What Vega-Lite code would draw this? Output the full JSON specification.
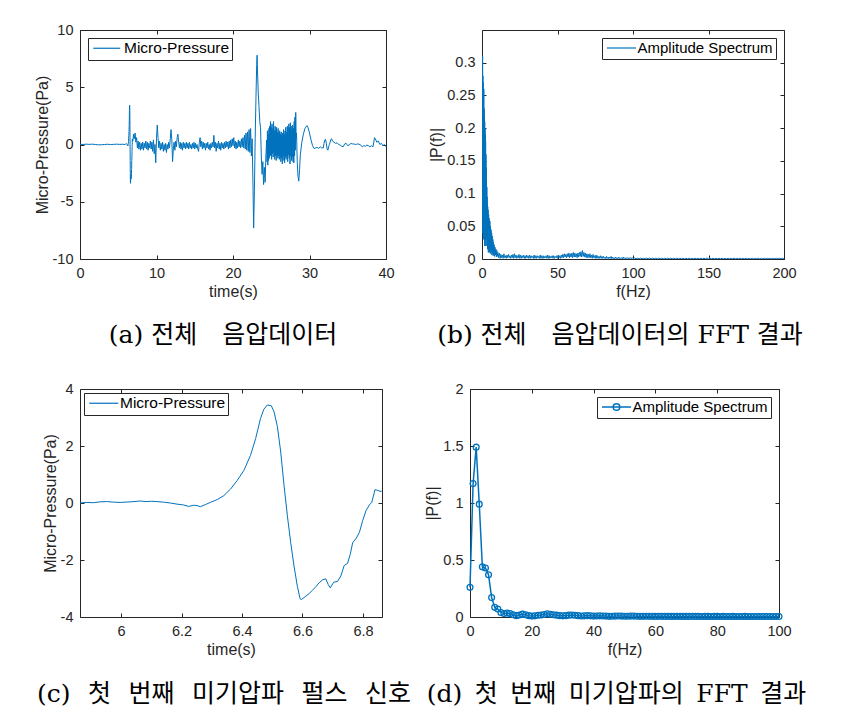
{
"$schema":"https://vega.github.io/schema/vega-lite/v6.json",
"background":"white",
"padding":{"left":33,"top":21,"right":0,"bottom":0},
"config":{
 "font":"Liberation Sans",
 "view":{"stroke":"#262626","strokeWidth":1},
 "axis":{"labelFont":"Liberation Sans","labelFontSize":14.5,"labelColor":"#262626","titleFont":"Liberation Sans","titleFontSize":16,"titleFontWeight":"normal","titleColor":"#262626","grid":false,"domain":false,"ticks":true,"tickColor":"#262626","tickSize":-4,"labelPadding":11,"titlePadding":4,"labelFlush":false,"labelOverlap":false},
 "axisY":{"titlePadding":2},
 "legend":{"title":null,"orient":"top-left","labelFont":"Liberation Sans","labelColor":"#000000","strokeColor":"#262626","fillColor":"#ffffff","padding":2.5,"labelOffset":18,"symbolSize":100,"symbolStrokeWidth":1.2,"symbolFillColor":"transparent","cornerRadius":0,"offset":8},
 "title":{"font":"DejaVu Serif, Noto Sans CJK KR","fontSize":25,"fontWeight":"normal","color":"#000000","orient":"bottom","anchor":"middle","frame":"group"}
},
"datasets":{
"ts":[
{"t":0,"p":0.02},{"t":0.4,"p":0.0},{"t":0.8,"p":0.03},{"t":1.2,"p":0.01},{"t":1.6,"p":0.03},{"t":2.0,"p":0.0},{"t":2.4,"p":-0.03},{"t":2.8,"p":-0.02},{"t":3.2,"p":0.0},{"t":3.6,"p":0.02},{"t":4.0,"p":0.0},{"t":4.4,"p":0.01},{"t":4.8,"p":0.03},{"t":5.2,"p":0.01},{"t":5.6,"p":0.02},
{"t":5.864,"p":0.0},{"t":5.885,"p":0.02},{"t":5.908,"p":0.01},{"t":5.93,"p":0.04},{"t":5.952,"p":0.05},{"t":5.975,"p":0.03},{"t":5.997,"p":0.02},{"t":6.03,"p":0.04},{"t":6.063,"p":0.07},{"t":6.08,"p":0.05},{"t":6.1,"p":0.06},{"t":6.118,"p":0.05},{"t":6.14,"p":0.03},{"t":6.163,"p":0.0},{"t":6.185,"p":-0.04},{"t":6.207,"p":-0.07},{"t":6.223,"p":-0.12},{"t":6.24,"p":-0.08},{"t":6.251,"p":-0.09},{"t":6.262,"p":-0.13},{"t":6.28,"p":-0.05},{"t":6.295,"p":0.02},{"t":6.318,"p":0.12},{"t":6.34,"p":0.26},{"t":6.362,"p":0.49},{"t":6.384,"p":0.79},{"t":6.406,"p":1.14},{"t":6.428,"p":1.67},{"t":6.445,"p":2.26},{"t":6.461,"p":2.96},{"t":6.472,"p":3.29},{"t":6.484,"p":3.44},{"t":6.497,"p":3.41},{"t":6.506,"p":3.2},{"t":6.517,"p":2.68},{"t":6.528,"p":1.79},{"t":6.539,"p":0.61},{"t":6.55,"p":-0.45},{"t":6.561,"p":-1.39},{"t":6.572,"p":-2.21},{"t":6.583,"p":-2.92},{"t":6.592,"p":-3.36},{"t":6.596,"p":-3.39},{"t":6.611,"p":-3.27},{"t":6.622,"p":-3.18},{"t":6.633,"p":-3.06},{"t":6.644,"p":-2.94},{"t":6.655,"p":-2.8},{"t":6.666,"p":-2.7},{"t":6.677,"p":-2.66},{"t":6.685,"p":-2.86},{"t":6.692,"p":-2.98},{"t":6.703,"p":-2.78},{"t":6.716,"p":-2.75},{"t":6.727,"p":-2.56},{"t":6.738,"p":-2.19},{"t":6.749,"p":-2.12},{"t":6.758,"p":-1.8},{"t":6.766,"p":-1.39},{"t":6.777,"p":-1.25},{"t":6.788,"p":-1.04},{"t":6.799,"p":-0.62},{"t":6.81,"p":-0.27},{"t":6.821,"p":-0.07},{"t":6.829,"p":0.02},{"t":6.84,"p":0.47},{"t":6.849,"p":0.44},{"t":6.86,"p":0.4},{"t":6.863,"p":0.44},{"t":6.9,"p":0.3},
{"t":7.0,"p":0.9},{"t":7.1,"p":0.5},{"t":7.2,"p":1.0},{"t":7.3,"p":0.2},{"t":7.4,"p":0.6},{"t":7.5,"p":-0.3},{"t":7.6,"p":0.3},{"t":7.7,"p":-0.4},{"t":7.8,"p":0.2},{"t":7.9,"p":-0.5},
{"t":8.0,"p":0.1},{"t":8.1,"p":-0.4},{"t":8.2,"p":0.2},{"t":8.3,"p":-0.5},{"t":8.4,"p":0.1},{"t":8.5,"p":-0.3},{"t":8.6,"p":0.3},{"t":8.7,"p":-0.4},{"t":8.8,"p":0.2},{"t":8.9,"p":-0.5},
{"t":9.0,"p":0.1},{"t":9.1,"p":-0.3},{"t":9.2,"p":0.3},{"t":9.3,"p":-0.4},{"t":9.4,"p":0.2},{"t":9.5,"p":-0.6},{"t":9.6,"p":0.4},{"t":9.7,"p":-0.8},{"t":9.8,"p":0.0},{"t":9.9,"p":-1.6},
{"t":10.0,"p":0.5},{"t":10.1,"p":1.7},{"t":10.2,"p":0.6},{"t":10.3,"p":-0.3},{"t":10.4,"p":0.3},{"t":10.5,"p":-0.5},{"t":10.6,"p":0.1},{"t":10.7,"p":-0.4},{"t":10.8,"p":0.2},{"t":10.9,"p":-0.6},
{"t":11.0,"p":0.0},{"t":11.1,"p":-0.5},{"t":11.2,"p":0.1},{"t":11.3,"p":-0.7},{"t":11.4,"p":0.0},{"t":11.5,"p":-0.4},{"t":11.6,"p":0.2},{"t":11.7,"p":-0.3},{"t":11.8,"p":0.5},{"t":11.9,"p":1.3},
{"t":12.0,"p":0.4},{"t":12.1,"p":-1.5},{"t":12.2,"p":-0.4},{"t":12.3,"p":0.2},{"t":12.4,"p":-0.5},{"t":12.5,"p":0.3},{"t":12.6,"p":-0.2},{"t":12.7,"p":0.6},{"t":12.8,"p":0.9},{"t":12.9,"p":0.2},
{"t":13.0,"p":-0.3},{"t":13.1,"p":0.2},{"t":13.2,"p":-0.4},{"t":13.3,"p":0.1},{"t":13.4,"p":-0.5},{"t":13.5,"p":0.2},{"t":13.6,"p":-0.3},{"t":13.7,"p":0.1},{"t":13.8,"p":-0.4},{"t":13.9,"p":0.2},
{"t":14.0,"p":-0.3},{"t":14.1,"p":0.1},{"t":14.2,"p":-0.4},{"t":14.3,"p":0.2},{"t":14.4,"p":-0.3},{"t":14.5,"p":0.0},{"t":14.6,"p":-0.4},{"t":14.7,"p":0.1},{"t":14.8,"p":-0.3},{"t":14.9,"p":0.2},
{"t":15.0,"p":-0.4},{"t":15.1,"p":0.1},{"t":15.2,"p":-0.3},{"t":15.3,"p":0.0},{"t":15.4,"p":-0.4},{"t":15.5,"p":-0.6},{"t":15.6,"p":0.2},{"t":15.7,"p":0.6},{"t":15.8,"p":-0.2},{"t":15.9,"p":0.3},
{"t":16.0,"p":-0.4},{"t":16.1,"p":0.2},{"t":16.2,"p":-0.3},{"t":16.3,"p":0.1},{"t":16.4,"p":-0.5},{"t":16.5,"p":0.1},{"t":16.6,"p":-0.3},{"t":16.7,"p":0.2},{"t":16.8,"p":-0.4},{"t":16.9,"p":0.0},
{"t":17.0,"p":-0.5},{"t":17.1,"p":0.1},{"t":17.2,"p":-0.3},{"t":17.3,"p":0.2},{"t":17.4,"p":-0.2},{"t":17.5,"p":0.8},{"t":17.6,"p":-0.3},{"t":17.7,"p":0.2},{"t":17.8,"p":-0.6},{"t":17.9,"p":0.1},
{"t":18.0,"p":-0.3},{"t":18.1,"p":0.3},{"t":18.2,"p":-0.4},{"t":18.3,"p":0.1},{"t":18.4,"p":-0.5},{"t":18.5,"p":0.2},{"t":18.6,"p":-0.3},{"t":18.7,"p":0.1},{"t":18.8,"p":-0.4},{"t":18.9,"p":0.2},
{"t":19.0,"p":-0.3},{"t":19.1,"p":0.3},{"t":19.2,"p":-0.2},{"t":19.3,"p":0.2},{"t":19.4,"p":-0.4},{"t":19.5,"p":0.3},{"t":19.6,"p":-0.3},{"t":19.7,"p":0.4},{"t":19.8,"p":-0.2},{"t":19.9,"p":0.5},
{"t":20.0,"p":-0.1},{"t":20.1,"p":0.6},{"t":20.2,"p":-0.3},{"t":20.3,"p":0.3},{"t":20.4,"p":-0.4},{"t":20.5,"p":0.2},{"t":20.6,"p":-0.3},{"t":20.7,"p":0.4},{"t":20.8,"p":-0.2},{"t":20.9,"p":0.3},
{"t":21.0,"p":-0.3},{"t":21.1,"p":0.5},{"t":21.2,"p":-0.2},{"t":21.3,"p":0.6},{"t":21.4,"p":-0.3},{"t":21.5,"p":0.8},{"t":21.6,"p":-0.4},{"t":21.7,"p":1.0},{"t":21.8,"p":-0.5},{"t":21.9,"p":1.1},
{"t":22.0,"p":-0.6},{"t":22.1,"p":1.3},{"t":22.2,"p":-0.7},{"t":22.3,"p":1.4},{"t":22.4,"p":-1.0},{"t":22.5,"p":0.5},{"t":22.6,"p":-3.0},{"t":22.7,"p":-7.3},{"t":22.8,"p":-4.0},{"t":22.9,"p":0.5},
{"t":23.0,"p":4.0},{"t":23.1,"p":7.0},{"t":23.15,"p":7.8},{"t":23.2,"p":6.5},{"t":23.3,"p":4.5},{"t":23.4,"p":3.3},{"t":23.5,"p":2.0},{"t":23.6,"p":1.5},{"t":23.7,"p":-1.0},{"t":23.8,"p":-2.6},
{"t":23.9,"p":-1.5},{"t":24.0,"p":-3.5},{"t":24.1,"p":-2.0},{"t":24.2,"p":-3.3},{"t":24.3,"p":-1.0},{"t":24.4,"p":0.4},
{"t":24.45,"p":-1.5},{"t":24.5,"p":1.2},{"t":24.55,"p":-1.8},{"t":24.6,"p":0.9},{"t":24.65,"p":-1.4},{"t":24.7,"p":1.4},{"t":24.75,"p":-1.2},{"t":24.8,"p":1.6},{"t":24.85,"p":-0.9},{"t":24.9,"p":2.0},
{"t":24.95,"p":-1.0},{"t":25.0,"p":1.5},{"t":25.05,"p":-1.3},{"t":25.1,"p":1.8},{"t":25.15,"p":-0.8},{"t":25.2,"p":1.4},{"t":25.25,"p":-1.1},{"t":25.3,"p":2.0},{"t":25.35,"p":-0.7},{"t":25.4,"p":1.2},
{"t":25.45,"p":-1.3},{"t":25.5,"p":1.6},{"t":25.55,"p":-1.0},{"t":25.6,"p":1.3},{"t":25.65,"p":-1.4},{"t":25.7,"p":1.5},{"t":25.75,"p":-0.9},{"t":25.8,"p":1.1},{"t":25.85,"p":-1.2},{"t":25.9,"p":1.4},
{"t":25.95,"p":-1.0},{"t":26.0,"p":1.0},{"t":26.05,"p":-1.3},{"t":26.1,"p":1.2},{"t":26.15,"p":-1.1},{"t":26.2,"p":0.9},{"t":26.25,"p":-1.5},{"t":26.3,"p":1.1},{"t":26.35,"p":-1.2},{"t":26.4,"p":0.8},
{"t":26.45,"p":-1.7},{"t":26.5,"p":1.0},{"t":26.55,"p":-1.4},{"t":26.6,"p":1.3},{"t":26.65,"p":-1.0},{"t":26.7,"p":0.9},{"t":26.75,"p":-1.6},{"t":26.8,"p":1.2},{"t":26.85,"p":-1.1},{"t":26.9,"p":1.5},
{"t":26.95,"p":-1.3},{"t":27.0,"p":1.1},{"t":27.05,"p":-1.0},{"t":27.1,"p":1.6},{"t":27.15,"p":-1.5},{"t":27.2,"p":1.4},{"t":27.25,"p":-0.9},{"t":27.3,"p":1.8},{"t":27.35,"p":-1.2},{"t":27.4,"p":1.5},
{"t":27.45,"p":-1.7},{"t":27.5,"p":1.9},{"t":27.55,"p":-1.0},{"t":27.6,"p":1.6},{"t":27.65,"p":-1.4},{"t":27.7,"p":1.3},{"t":27.75,"p":-1.1},{"t":27.8,"p":1.7},{"t":27.85,"p":-1.5},{"t":27.9,"p":1.4},
{"t":27.95,"p":-1.6},{"t":28.0,"p":2.0},{"t":28.05,"p":-1.0},{"t":28.1,"p":2.4},{"t":28.15,"p":-0.5},{"t":28.2,"p":2.8},{"t":28.25,"p":0.5},{"t":28.3,"p":1.0},{"t":28.4,"p":-1.5},{"t":28.5,"p":-2.8},
{"t":28.6,"p":-3.2},{"t":28.7,"p":-2.2},{"t":28.8,"p":-0.9},{"t":29.0,"p":0.2},{"t":29.2,"p":0.9},{"t":29.4,"p":1.4},{"t":29.6,"p":1.6},{"t":29.7,"p":1.65},{"t":29.8,"p":1.5},{"t":30.0,"p":1.0},
{"t":30.2,"p":0.4},{"t":30.4,"p":-0.1},{"t":30.6,"p":-0.35},{"t":30.8,"p":-0.3},{"t":31.0,"p":-0.25},{"t":31.2,"p":-0.35},{"t":31.4,"p":-0.2},{"t":31.6,"p":-0.3},{"t":31.8,"p":-0.3},{"t":31.9,"p":0.1},
{"t":32.0,"p":0.4},{"t":32.1,"p":0.45},{"t":32.2,"p":0.1},{"t":32.3,"p":-0.4},{"t":32.4,"p":-0.5},{"t":32.5,"p":-0.2},{"t":32.6,"p":0.0},{"t":32.7,"p":0.2},{"t":32.8,"p":0.45},{"t":32.9,"p":0.5},
{"t":33.0,"p":0.3},{"t":33.2,"p":0.2},{"t":33.4,"p":0.1},{"t":33.6,"p":0.15},{"t":33.8,"p":0.0},{"t":34.0,"p":-0.05},{"t":34.2,"p":-0.15},{"t":34.4,"p":-0.2},{"t":34.6,"p":0.05},{"t":34.8,"p":0.1},
{"t":35.0,"p":-0.1},{"t":35.2,"p":-0.05},{"t":35.4,"p":0.1},{"t":35.6,"p":0.05},{"t":35.8,"p":0.05},{"t":36.0,"p":0.0},{"t":36.3,"p":0.05},{"t":36.6,"p":0.0},{"t":36.9,"p":-0.2},{"t":37.1,"p":-0.1},
{"t":37.3,"p":-0.15},{"t":37.5,"p":-0.05},{"t":37.7,"p":-0.1},{"t":37.9,"p":-0.2},{"t":38.1,"p":-0.1},{"t":38.3,"p":-0.2},{"t":38.5,"p":0.6},{"t":38.6,"p":0.5},{"t":38.8,"p":0.2},{"t":39.0,"p":0.3},
{"t":39.2,"p":0.0},{"t":39.4,"p":0.1},{"t":39.6,"p":-0.1},{"t":39.8,"p":0.0},{"t":40.0,"p":-0.2}
],
"fb":[
{"f":0,"a":0.25},{"f":0.1,"a":0.05},{"f":0.2,"a":0.29},{"f":0.3,"a":0.08},{"f":0.4,"a":0.31},{"f":0.5,"a":0.04},{"f":0.6,"a":0.28},{"f":0.7,"a":0.09},{"f":0.8,"a":0.27},{"f":0.9,"a":0.03},
{"f":1.0,"a":0.25},{"f":1.1,"a":0.07},{"f":1.2,"a":0.26},{"f":1.3,"a":0.04},{"f":1.4,"a":0.23},{"f":1.5,"a":0.06},{"f":1.6,"a":0.22},{"f":1.7,"a":0.02},{"f":1.8,"a":0.21},{"f":1.9,"a":0.05},
{"f":2.0,"a":0.2},{"f":2.1,"a":0.03},{"f":2.2,"a":0.19},{"f":2.3,"a":0.06},{"f":2.4,"a":0.18},{"f":2.5,"a":0.02},{"f":2.6,"a":0.16},{"f":2.7,"a":0.04},{"f":2.8,"a":0.14},{"f":2.9,"a":0.03},
{"f":3.0,"a":0.12},{"f":3.1,"a":0.05},{"f":3.2,"a":0.11},{"f":3.3,"a":0.02},{"f":3.4,"a":0.095},{"f":3.5,"a":0.03},{"f":3.6,"a":0.085},{"f":3.7,"a":0.015},{"f":3.8,"a":0.08},{"f":3.9,"a":0.03},
{"f":4.0,"a":0.075},{"f":4.2,"a":0.01},{"f":4.4,"a":0.068},{"f":4.6,"a":0.02},{"f":4.8,"a":0.062},{"f":5.0,"a":0.01},{"f":5.2,"a":0.058},{"f":5.4,"a":0.015},{"f":5.6,"a":0.05},{"f":5.8,"a":0.008},
{"f":6.0,"a":0.045},{"f":6.2,"a":0.012},{"f":6.4,"a":0.04},{"f":6.6,"a":0.006},{"f":6.8,"a":0.035},{"f":7.0,"a":0.01},{"f":7.2,"a":0.03},{"f":7.4,"a":0.005},{"f":7.6,"a":0.025},{"f":7.8,"a":0.008},
{"f":8.0,"a":0.022},{"f":8.3,"a":0.004},{"f":8.6,"a":0.018},{"f":8.9,"a":0.006},{"f":9.2,"a":0.015},{"f":9.5,"a":0.003},{"f":9.8,"a":0.013},{"f":10.1,"a":0.004},
{"f":10.5,"a":0.01},{"f":11,"a":0.002},{"f":11.5,"a":0.009},{"f":12,"a":0.001},{"f":12.5,"a":0.007},{"f":13,"a":0.002},{"f":13.5,"a":0.006},{"f":14,"a":0.001},{"f":14.5,"a":0.008},{"f":15,"a":0.002},
{"f":15.5,"a":0.005},{"f":16,"a":0.001},{"f":16.5,"a":0.006},{"f":17,"a":0.002},{"f":17.5,"a":0.007},{"f":18,"a":0.002},{"f":18.5,"a":0.005},{"f":19,"a":0.001},{"f":19.5,"a":0.006},{"f":20,"a":0.002},
{"f":20.5,"a":0.007},{"f":21,"a":0.001},{"f":21.5,"a":0.008},{"f":22,"a":0.002},{"f":22.5,"a":0.006},{"f":23,"a":0.001},{"f":23.5,"a":0.005},{"f":24,"a":0.002},{"f":24.5,"a":0.007},{"f":25,"a":0.001},
{"f":25.5,"a":0.006},{"f":26,"a":0.001},{"f":26.5,"a":0.005},{"f":27,"a":0.002},{"f":27.5,"a":0.006},{"f":28,"a":0.001},{"f":28.5,"a":0.005},{"f":29,"a":0.001},{"f":29.5,"a":0.006},{"f":30,"a":0.002},
{"f":30.5,"a":0.005},{"f":31,"a":0.001},{"f":31.5,"a":0.006},{"f":32,"a":0.001},{"f":32.5,"a":0.005},{"f":33,"a":0.002},{"f":33.5,"a":0.004},{"f":34,"a":0.001},{"f":34.5,"a":0.006},{"f":35,"a":0.001},
{"f":35.5,"a":0.005},{"f":36,"a":0.001},{"f":36.5,"a":0.005},{"f":37,"a":0.002},{"f":37.5,"a":0.004},{"f":38,"a":0.001},{"f":38.5,"a":0.006},{"f":39,"a":0.001},{"f":39.5,"a":0.005},{"f":40,"a":0.001},
{"f":40.5,"a":0.005},{"f":41,"a":0.001},{"f":41.5,"a":0.004},{"f":42,"a":0.002},{"f":42.5,"a":0.005},{"f":43,"a":0.001},{"f":43.5,"a":0.006},{"f":44,"a":0.001},{"f":44.5,"a":0.005},{"f":45,"a":0.001},
{"f":45.5,"a":0.004},{"f":46,"a":0.002},{"f":46.5,"a":0.005},{"f":47,"a":0.001},{"f":47.5,"a":0.005},{"f":48,"a":0.001},{"f":48.5,"a":0.004},{"f":49,"a":0.002},{"f":49.5,"a":0.005},{"f":50,"a":0.001},
{"f":50.5,"a":0.006},{"f":51,"a":0.002},{"f":51.5,"a":0.005},{"f":52,"a":0.001},{"f":52.5,"a":0.006},{"f":53,"a":0.002},{"f":53.5,"a":0.007},{"f":54,"a":0.002},{"f":54.5,"a":0.008},{"f":55,"a":0.003},
{"f":55.5,"a":0.007},{"f":56,"a":0.002},{"f":56.5,"a":0.008},{"f":57,"a":0.003},{"f":57.5,"a":0.009},{"f":58,"a":0.002},{"f":58.5,"a":0.008},{"f":59,"a":0.003},{"f":59.5,"a":0.009},{"f":60,"a":0.002},
{"f":60.5,"a":0.01},{"f":61,"a":0.003},{"f":61.5,"a":0.009},{"f":62,"a":0.003},{"f":62.5,"a":0.008},{"f":63,"a":0.002},{"f":63.5,"a":0.009},{"f":64,"a":0.003},{"f":64.5,"a":0.01},{"f":65,"a":0.004},
{"f":65.5,"a":0.011},{"f":66,"a":0.003},{"f":66.5,"a":0.013},{"f":67,"a":0.004},{"f":67.5,"a":0.01},{"f":68,"a":0.003},{"f":68.5,"a":0.009},{"f":69,"a":0.002},{"f":69.5,"a":0.008},{"f":70,"a":0.002},
{"f":70.5,"a":0.007},{"f":71,"a":0.002},{"f":71.5,"a":0.008},{"f":72,"a":0.002},{"f":72.5,"a":0.006},{"f":73,"a":0.001},{"f":73.5,"a":0.007},{"f":74,"a":0.002},{"f":74.5,"a":0.005},{"f":75,"a":0.001},
{"f":75.5,"a":0.006},{"f":76,"a":0.001},{"f":76.5,"a":0.005},{"f":77,"a":0.001},{"f":77.5,"a":0.004},{"f":78,"a":0.001},{"f":78.5,"a":0.005},{"f":79,"a":0.001},{"f":79.5,"a":0.004},{"f":80,"a":0.001},
{"f":80.5,"a":0.004},{"f":81,"a":0.001},{"f":81.5,"a":0.003},{"f":82,"a":0.0005},{"f":82.5,"a":0.004},{"f":83,"a":0.001},{"f":83.5,"a":0.003},{"f":84,"a":0.0005},{"f":84.5,"a":0.003},{"f":85,"a":0.001},
{"f":85.5,"a":0.004},{"f":86,"a":0.0005},{"f":86.5,"a":0.003},{"f":87,"a":0.0005},{"f":87.5,"a":0.002},{"f":88,"a":0.0005},{"f":88.5,"a":0.003},{"f":89,"a":0.0005},{"f":89.5,"a":0.002},{"f":90,"a":0.0005},
{"f":90.5,"a":0.003},{"f":91,"a":0.0005},{"f":91.5,"a":0.002},{"f":92,"a":0.0005},{"f":92.5,"a":0.002},{"f":93,"a":0.0005},{"f":93.5,"a":0.003},{"f":94,"a":0.0005},{"f":94.5,"a":0.002},{"f":95,"a":0.0005},
{"f":95.5,"a":0.002},{"f":96,"a":0.0005},{"f":96.5,"a":0.002},{"f":97,"a":0.0005},{"f":97.5,"a":0.002},{"f":98,"a":0.0005},{"f":98.5,"a":0.002},{"f":99,"a":0.0005},{"f":99.5,"a":0.002},{"f":100,"a":0.0005},
{"f":101,"a":0.0015},{"f":102,"a":0.0003},{"f":103,"a":0.0012},{"f":104,"a":0.0002},{"f":105,"a":0.0015},{"f":106,"a":0.0003},{"f":107,"a":0.0012},{"f":108,"a":0.0002},{"f":109,"a":0.0014},{"f":110,"a":0.0003},
{"f":111,"a":0.0012},{"f":112,"a":0.0002},{"f":113,"a":0.0013},{"f":114,"a":0.0003},{"f":115,"a":0.0012},{"f":116,"a":0.0002},{"f":117,"a":0.0014},{"f":118,"a":0.0003},{"f":119,"a":0.0011},{"f":120,"a":0.0002},
{"f":121,"a":0.0012},{"f":122,"a":0.0003},{"f":123,"a":0.0013},{"f":124,"a":0.0002},{"f":125,"a":0.0011},{"f":126,"a":0.0003},{"f":127,"a":0.0012},{"f":128,"a":0.0002},{"f":129,"a":0.0013},{"f":130,"a":0.0002},
{"f":131,"a":0.0011},{"f":132,"a":0.0003},{"f":133,"a":0.0012},{"f":134,"a":0.0002},{"f":135,"a":0.0011},{"f":136,"a":0.0003},{"f":137,"a":0.0012},{"f":138,"a":0.0002},{"f":139,"a":0.001},{"f":140,"a":0.0002},
{"f":141,"a":0.0011},{"f":142,"a":0.0003},{"f":143,"a":0.001},{"f":144,"a":0.0002},{"f":145,"a":0.0012},{"f":146,"a":0.0002},{"f":147,"a":0.001},{"f":148,"a":0.0003},{"f":149,"a":0.0015},{"f":150,"a":0.0002},
{"f":151,"a":0.0011},{"f":152,"a":0.0002},{"f":153,"a":0.001},{"f":154,"a":0.0003},{"f":155,"a":0.0011},{"f":156,"a":0.0002},{"f":157,"a":0.001},{"f":158,"a":0.0002},{"f":159,"a":0.0011},{"f":160,"a":0.0003},
{"f":161,"a":0.001},{"f":162,"a":0.0002},{"f":163,"a":0.0011},{"f":164,"a":0.0002},{"f":165,"a":0.001},{"f":166,"a":0.0003},{"f":167,"a":0.0011},{"f":168,"a":0.0002},{"f":169,"a":0.001},{"f":170,"a":0.0002},
{"f":171,"a":0.0011},{"f":172,"a":0.0002},{"f":173,"a":0.001},{"f":174,"a":0.0003},{"f":175,"a":0.0011},{"f":176,"a":0.0002},{"f":177,"a":0.001},{"f":178,"a":0.0002},{"f":179,"a":0.0011},{"f":180,"a":0.0002},
{"f":181,"a":0.001},{"f":182,"a":0.0003},{"f":183,"a":0.0011},{"f":184,"a":0.0002},{"f":185,"a":0.001},{"f":186,"a":0.0002},{"f":187,"a":0.0011},{"f":188,"a":0.0002},{"f":189,"a":0.001},{"f":190,"a":0.0003},
{"f":191,"a":0.0011},{"f":192,"a":0.0002},{"f":193,"a":0.001},{"f":194,"a":0.0002},{"f":195,"a":0.0011},{"f":196,"a":0.0002},{"f":197,"a":0.001},{"f":198,"a":0.0003},{"f":199,"a":0.0011},{"f":200,"a":0.0002}
],
"fd":[
{"f":0,"a":0.26},{"f":1,"a":1.17},{"f":2,"a":1.49},{"f":3,"a":0.99},{"f":4,"a":0.44},{"f":5,"a":0.43},{"f":6,"a":0.37},{"f":7,"a":0.17},{"f":8,"a":0.085},{"f":9,"a":0.07},
{"f":10,"a":0.04},{"f":11,"a":0.03},{"f":12,"a":0.035},{"f":13,"a":0.03},{"f":14,"a":0.02},{"f":15,"a":0.012},{"f":16,"a":0.018},{"f":17,"a":0.025},{"f":18,"a":0.02},{"f":19,"a":0.012},
{"f":20,"a":0.008},{"f":21,"a":0.01},{"f":22,"a":0.015},{"f":23,"a":0.018},{"f":24,"a":0.022},{"f":25,"a":0.028},{"f":26,"a":0.024},{"f":27,"a":0.02},{"f":28,"a":0.016},{"f":29,"a":0.012},
{"f":30,"a":0.01},{"f":31,"a":0.012},{"f":32,"a":0.016},{"f":33,"a":0.018},{"f":34,"a":0.015},{"f":35,"a":0.012},{"f":36,"a":0.009},{"f":37,"a":0.01},{"f":38,"a":0.012},{"f":39,"a":0.01},
{"f":40,"a":0.008},{"f":41,"a":0.009},{"f":42,"a":0.01},{"f":43,"a":0.009},{"f":44,"a":0.008},{"f":45,"a":0.006},{"f":46,"a":0.007},{"f":47,"a":0.008},{"f":48,"a":0.009},{"f":49,"a":0.008},
{"f":50,"a":0.007},{"f":51,"a":0.007},{"f":52,"a":0.008},{"f":53,"a":0.008},{"f":54,"a":0.007},{"f":55,"a":0.006},{"f":56,"a":0.006},{"f":57,"a":0.007},{"f":58,"a":0.006},{"f":59,"a":0.006},
{"f":60,"a":0.005},{"f":61,"a":0.006},{"f":62,"a":0.006},{"f":63,"a":0.005},{"f":64,"a":0.006},{"f":65,"a":0.005},{"f":66,"a":0.005},{"f":67,"a":0.006},{"f":68,"a":0.005},{"f":69,"a":0.005},
{"f":70,"a":0.005},{"f":71,"a":0.005},{"f":72,"a":0.006},{"f":73,"a":0.005},{"f":74,"a":0.005},{"f":75,"a":0.004},{"f":76,"a":0.005},{"f":77,"a":0.005},{"f":78,"a":0.004},{"f":79,"a":0.005},
{"f":80,"a":0.005},{"f":81,"a":0.004},{"f":82,"a":0.005},{"f":83,"a":0.004},{"f":84,"a":0.004},{"f":85,"a":0.005},{"f":86,"a":0.004},{"f":87,"a":0.004},{"f":88,"a":0.004},{"f":89,"a":0.005},
{"f":90,"a":0.004},{"f":91,"a":0.004},{"f":92,"a":0.004},{"f":93,"a":0.004},{"f":94,"a":0.004},{"f":95,"a":0.004},{"f":96,"a":0.004},{"f":97,"a":0.004},{"f":98,"a":0.004},{"f":99,"a":0.004},{"f":100,"a":0.004}
]
},
"vconcat":[
 {"hconcat":[
  {"width":306,"height":229,
   "title":{"text":"(a) 전체\u2003음압데이터","dx":-10,"offset":23},
   "layer":[
    {"data":{"name":"ts"},"mark":{"type":"line","strokeWidth":1,"clip":true},
     "encoding":{
      "x":{"field":"t","type":"quantitative","scale":{"domain":[0,40],"nice":false,"zero":false},"axis":{"values":[0,10,20,30,40],"title":"time(s)"}},
      "y":{"field":"p","type":"quantitative","scale":{"domain":[-10,10],"nice":false},"axis":{"values":[-10,-5,0,5,10],"title":"Micro-Pressure(Pa)","labelExpr":"replace(datum.label,'\u2212','-')"}},
      "color":{"datum":"Micro-Pressure","scale":{"range":["#0072BD"]},"legend":{"symbolType":"M-1,0L4.4,0","labelFontSize":15.5}}}},
    {"data":{"name":"ts"},"mark":{"type":"line","strokeOpacity":0},
     "encoding":{
      "x":{"field":"t","type":"quantitative","axis":{"orient":"top","values":[0,10,20,30,40],"labels":false,"title":null}},
      "y":{"field":"p","type":"quantitative","axis":{"orient":"right","values":[-10,-5,0,5,10],"labels":false,"title":null}}}}
   ],
   "resolve":{"axis":{"x":"independent","y":"independent"}}
  },
  {"width":302,"height":229,
   "title":{"text":"(b) 전체\u2003음압데이터의 FFT 결과","dx":-13,"offset":23},
   "layer":[
    {"data":{"name":"fb"},"mark":{"type":"line","strokeWidth":1,"clip":true},
     "encoding":{
      "x":{"field":"f","type":"quantitative","scale":{"domain":[0,200],"nice":false},"axis":{"values":[0,50,100,150,200],"title":"f(Hz)"}},
      "y":{"field":"a","type":"quantitative","scale":{"domain":[0,0.35],"nice":false},"axis":{"values":[0,0.05,0.1,0.15,0.2,0.25,0.3],"format":".2~f","title":"|P(f)|"}},
      "color":{"datum":"Amplitude Spectrum","scale":{"range":["#0072BD"]},"legend":{"orient":"top-right","symbolType":"M-1,0L4.8,0","labelFontSize":15}}}},
    {"data":{"name":"fb"},"mark":{"type":"line","strokeOpacity":0},
     "encoding":{
      "x":{"field":"f","type":"quantitative","axis":{"orient":"top","values":[0,50,100,150,200],"labels":false,"title":null}},
      "y":{"field":"a","type":"quantitative","axis":{"orient":"right","values":[0,0.05,0.1,0.15,0.2,0.25,0.3],"labels":false,"title":null}}}}
   ],
   "resolve":{"axis":{"x":"independent","y":"independent"}}
  }
 ],"spacing":96,"bounds":"flush","resolve":{"scale":{"color":"independent"}}},
 {"hconcat":[
  {"width":302,"height":228,
   "title":{"text":"(c)\u2002\u2009첫\u2002\u2009번째\u2002\u2009미기압파\u2002\u2009펄스\u2002\u2009신호","dx":-7,"offset":24},
   "layer":[
    {"data":{"name":"ts"},"mark":{"type":"line","strokeWidth":1,"clip":true},
     "encoding":{
      "x":{"field":"t","type":"quantitative","scale":{"domain":[5.864,6.863],"nice":false,"zero":false},"axis":{"values":[6,6.2,6.4,6.6,6.8],"format":".1~f","title":"time(s)"}},
      "y":{"field":"p","type":"quantitative","scale":{"domain":[-4,4],"nice":false},"axis":{"values":[-4,-2,0,2,4],"title":"Micro-Pressure(Pa)","labelExpr":"replace(datum.label,'\u2212','-')"}},
      "color":{"datum":"Micro-Pressure","scale":{"range":["#0072BD"]},"legend":{"symbolType":"M-1,0L4.8,0","labelFontSize":15.5,"offset":4}}}},
    {"data":{"name":"ts"},"mark":{"type":"line","strokeOpacity":0,"clip":true},
     "encoding":{
      "x":{"field":"t","type":"quantitative","axis":{"orient":"top","values":[6,6.2,6.4,6.6,6.8],"labels":false,"title":null}},
      "y":{"field":"p","type":"quantitative","axis":{"orient":"right","values":[-4,-2,0,2,4],"labels":false,"title":null}}}}
   ],
   "resolve":{"axis":{"x":"independent","y":"independent"}}
  },
  {"width":309,"height":228,
   "title":{"text":"(d)\u2002첫\u2002번째\u2002미기압파의\u2002FFT\u2002결과","dx":-8,"offset":24},
   "layer":[
    {"data":{"name":"fd"},"mark":{"type":"line","strokeWidth":1.5},
     "encoding":{
      "x":{"field":"f","type":"quantitative","scale":{"domain":[0,100],"nice":false},"axis":{"values":[0,20,40,60,80,100],"title":"f(Hz)"}},
      "y":{"field":"a","type":"quantitative","scale":{"domain":[0,2],"nice":false},"axis":{"values":[0,0.5,1,1.5,2],"format":"~g","title":"|P(f)|"}},
      "color":{"datum":"Amplitude Spectrum","scale":{"range":["#0072BD"]},"legend":{"orient":"top-right","symbolType":"M-1,0L4.8,0M2.56,0A0.66,0.66,0,1,1,1.24,0A0.66,0.66,0,1,1,2.56,0","symbolStrokeWidth":1.5,"labelFontSize":15}}}},
    {"data":{"name":"fd"},"mark":{"type":"point","shape":"circle","size":34,"strokeWidth":1.3,"color":"#0072BD","filled":false,"opacity":1},
     "encoding":{
      "x":{"field":"f","type":"quantitative","axis":null},
      "y":{"field":"a","type":"quantitative","axis":null}}},
    {"data":{"name":"fd"},"mark":{"type":"line","strokeOpacity":0},
     "encoding":{
      "x":{"field":"f","type":"quantitative","axis":{"orient":"top","values":[0,20,40,60,80,100],"labels":false,"title":null}},
      "y":{"field":"a","type":"quantitative","axis":{"orient":"right","values":[0,0.5,1,1.5,2],"labels":false,"title":null}}}}
   ],
   "resolve":{"axis":{"x":"independent","y":"independent"}}
  }
 ],"spacing":88,"bounds":"flush","resolve":{"scale":{"color":"independent"}}}
],
"spacing":359,
"bounds":"flush",
"resolve":{"scale":{"color":"independent"}}
}
